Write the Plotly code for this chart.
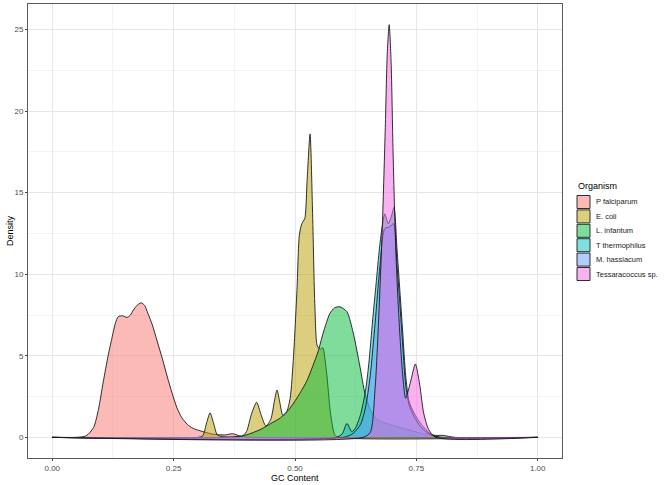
import plotly.graph_objects as go

# organisms in drawing order, with ggplot hue colours
organisms = ["P falciparum", "E. coli", "L. infantum", "T thermophilus", "M. hassiacum", "Tessaracoccus sp."]
colors = ["#F8766D", "#B79F00", "#00BA38", "#00BFC4", "#619CFF", "#F564E3"]

# density curves (GC content -> density)
pf_x = [0.0, 0.05, 0.07, 0.085, 0.095, 0.105, 0.115, 0.123, 0.13, 0.136, 0.145, 0.154, 0.161, 0.167,
        0.175, 0.183, 0.19, 0.197, 0.206, 0.216, 0.227, 0.237, 0.247, 0.257, 0.267, 0.278, 0.29,
        0.305, 0.33, 0.355, 0.372, 0.39, 0.41, 1.0]
pf_y = [0, 0, 0.1, 0.6, 1.7, 3.4, 5.0, 6.1, 7.0, 7.4, 7.45, 7.35, 7.5, 7.8, 8.1, 8.25, 8.1, 7.6,
        6.9, 5.9, 4.8, 3.7, 2.7, 1.8, 1.2, 0.8, 0.55, 0.4, 0.2, 0.15, 0.22, 0.05, 0, 0]

ec_x = [0.0, 0.3, 0.31, 0.318, 0.325, 0.332, 0.34, 0.35, 0.39, 0.4, 0.41, 0.421, 0.43, 0.44, 0.45,
        0.458, 0.463, 0.469, 0.475, 0.482, 0.49, 0.497, 0.504, 0.509, 0.514, 0.52, 0.525, 0.531,
        0.536, 0.541, 0.546, 0.552, 0.557, 0.565, 0.573, 0.582, 0.59, 1.0]
ec_y = [0, 0, 0.1, 0.9, 1.5, 0.9, 0.15, 0.05, 0.05, 0.35, 1.4, 2.15, 1.4, 0.7, 1.1, 2.3, 2.9, 2.1,
        1.35, 1.5, 2.4, 5.0, 9.0, 12.4, 13.1, 13.4, 15.8, 18.6, 14.0, 8.0, 5.6, 5.4, 5.5, 4.0, 1.5,
        0.15, 0, 0]

li_x = [0.0, 0.36, 0.38, 0.4, 0.43, 0.45, 0.47, 0.49, 0.51, 0.525, 0.537, 0.548, 0.558, 0.572,
        0.582, 0.593, 0.607, 0.62, 0.634, 0.644, 0.655, 0.667, 0.68, 0.7, 0.73, 0.76, 0.79, 0.805,
        0.83, 1.0]
li_y = [0, 0, 0.05, 0.15, 0.5, 0.85, 1.2, 1.8, 2.7, 3.5, 4.4, 5.3, 6.4, 7.6, 7.95, 8.0, 7.7, 6.4,
        4.3, 2.7, 1.7, 1.15, 0.95, 0.75, 0.5, 0.25, 0.12, 0.12, 0, 0]

tt_x = [0.0, 0.585, 0.597, 0.607, 0.617, 0.625, 0.635, 0.645, 0.652, 0.66, 0.667, 0.674, 0.68,
        0.685, 0.692, 0.698, 0.704, 0.71, 0.716, 0.722, 0.728, 0.735, 0.745, 0.76, 0.78, 0.8, 1.0]
tt_y = [0, 0, 0.2, 0.85, 0.35, 0.6, 1.4, 2.8, 4.5, 7.2, 9.4, 11.6, 13.0, 13.7, 13.1, 13.5, 14.1,
        11.6, 9.0, 6.4, 3.8, 2.2, 1.5, 0.8, 0.2, 0, 0]

mh_x = [0.0, 0.6, 0.62, 0.635, 0.645, 0.655, 0.665, 0.675, 0.685, 0.695, 0.703, 0.71, 0.716,
        0.722, 0.728, 0.735, 0.745, 0.76, 0.78, 0.8, 1.0]
mh_y = [0, 0, 0.25, 0.8, 1.8, 3.8, 7.0, 10.5, 12.8, 12.9, 13.1, 10.6, 8.2, 5.6, 3.2, 2.0, 1.3,
        0.6, 0.15, 0, 0]

ts_x = [0.0, 0.64, 0.655, 0.665, 0.672, 0.68, 0.686, 0.69, 0.694, 0.698, 0.702, 0.707, 0.712,
        0.72, 0.728, 0.738, 0.748, 0.757, 0.765, 0.775, 0.79, 1.0]
ts_y = [0, 0, 0.3, 3.0, 7.0, 13.0, 19.0, 23.5, 25.3, 23.0, 17.5, 12.0, 8.5, 4.5, 2.4, 3.4, 4.5,
        3.2, 1.5, 0.5, 0, 0]

curves = [(pf_x, pf_y), (ec_x, ec_y), (li_x, li_y), (tt_x, tt_y), (mh_x, mh_y), (ts_x, ts_y)]

x_ticks = [0.0, 0.25, 0.5, 0.75, 1.0]
x_labels = ["0.00", "0.25", "0.50", "0.75", "1.00"]
y_ticks = [0, 5, 10, 15, 20, 25]

FONT = "Liberation Sans, Arial, sans-serif"
W, H = 666, 485
L, R, T, B = 28, 104, 4, 27


def rgba(hex_color, a):
    h = hex_color.lstrip("#")
    return "rgba(%d,%d,%d,%s)" % (int(h[0:2], 16), int(h[2:4], 16), int(h[4:6], 16), a)


def px_x(p):
    return (p - L) / (W - L - R)


def px_y(p):
    return (H - B - p) / (H - T - B)


fig = go.Figure()
for name, col, (xs, ys) in zip(organisms, colors, curves):
    fig.add_trace(go.Scatter(
        x=xs, y=ys, name=name, mode="lines", fill="tozeroy",
        fillcolor=rgba(col, 0.5),
        line=dict(color="#1a1a1a", width=0.9, shape="spline", smoothing=0.7),
        showlegend=False, hoverinfo="skip",
    ))

axis_common = dict(
    showline=True, mirror=True, linecolor="#5a5a5a", linewidth=1,
    showgrid=True, gridcolor="#E6E6E6", gridwidth=1, zeroline=False,
    ticks="outside", ticklen=2, tickcolor="#444444", tickwidth=0.8,
    tickfont=dict(family=FONT, size=8, color="#4D4D4D"),
)
fig.update_xaxes(range=[-0.05, 1.05], tickvals=x_ticks, ticktext=x_labels,
                 minor=dict(tickvals=[0.125, 0.375, 0.625, 0.875], showgrid=True,
                            gridcolor="#F3F3F3", gridwidth=0.6, ticks=""),
                 **axis_common)
fig.update_yaxes(range=[-1.265, 26.565], tickvals=y_ticks,
                 minor=dict(tickvals=[2.5, 7.5, 12.5, 17.5, 22.5], showgrid=True,
                            gridcolor="#F3F3F3", gridwidth=0.6, ticks=""),
                 **axis_common)

annotations = [
    dict(text="GC Content", x=0.5, y=px_y(477.5), xref="paper", yref="paper",
         xanchor="center", yanchor="middle", showarrow=False,
         font=dict(family=FONT, size=9, color="black")),
    dict(text="Density", x=px_x(10), y=0.5, xref="paper", yref="paper", textangle=-90,
         xanchor="center", yanchor="middle", showarrow=False,
         font=dict(family=FONT, size=9, color="black")),
    dict(text="Organism", x=px_x(576), y=px_y(186), xref="paper", yref="paper",
         xanchor="left", yanchor="middle", showarrow=False,
         font=dict(family=FONT, size=9, color="black")),
]
shapes = []
for i, (name, col) in enumerate(zip(organisms, colors)):
    cy = 202 + 14.4 * i
    shapes.append(dict(type="rect", xref="paper", yref="paper",
                       x0=px_x(577), x1=px_x(590), y0=px_y(cy + 6.5), y1=px_y(cy - 6.5),
                       fillcolor=rgba(col, 0.5), line=dict(color="#1a1a1a", width=0.9)))
    annotations.append(dict(text=name, x=px_x(594), y=px_y(cy), xref="paper", yref="paper",
                            xanchor="left", yanchor="middle", showarrow=False,
                            font=dict(family=FONT, size=7.5, color="#222222")))

fig.update_layout(
    width=W, height=H,
    margin=dict(l=L, r=R, t=T, b=B),
    plot_bgcolor="white", paper_bgcolor="white",
    showlegend=False,
    annotations=annotations, shapes=shapes,
)

fig.write_html("out.html", config={"displayModeBar": False},
               post_script="document.body.style.margin='0';")
